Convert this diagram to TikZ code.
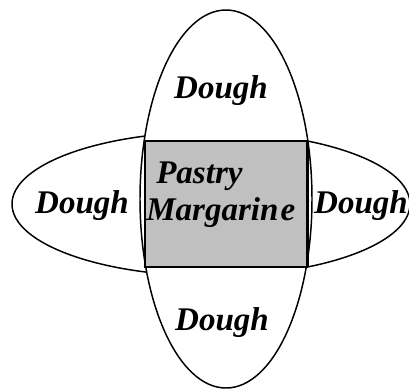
\documentclass[tikz,border=0pt]{standalone}
\usepackage{fontspec}
\setmainfont{Liberation Serif}
\definecolor{pastrygray}{RGB}{192,192,192}
\usetikzlibrary{positioning}

\begin{document}
\begin{tikzpicture}[x=0.025cm, y=-0.025cm,
    lobe/.style={draw=black, fill=white, line width=1.05pt},
    block/.style={draw=black, fill=pastrygray, line width=2.1pt},
    lbl/.style={inner sep=0pt, font=\fontsize{23.5}{28}\selectfont\bfseries\itshape}
  ]
    \useasboundingbox (0,0) rectangle (409,390);

    % Dough lobes
    \draw[lobe] (211,204) ellipse [x radius=199, y radius=72];
    \draw[lobe] (226,199) ellipse [x radius=86, y radius=189];

    % Margarine block
    \draw[block] (145,141) rectangle (307,267);
    \draw[line width=1.2pt] (308,142) -- (308,266);

    % Labels
    \node[lbl, anchor=base] (dtop)   at (221,98)  {Dough};
    \node[lbl, anchor=base] (dbot)   at (222,330) {Dough};
    \node[lbl, anchor=base] (dleft)  at (82,213)  {Dough};
    \node[lbl, anchor=base] (dright) at (361,213) {Dough};
    \node[lbl, anchor=base west] (pastry) at (156,183) {Pastry};
    \node[lbl, anchor=base west] (marg)   at (146,220) {Margarin\kern1.5pt e};
\end{tikzpicture}
\end{document}
